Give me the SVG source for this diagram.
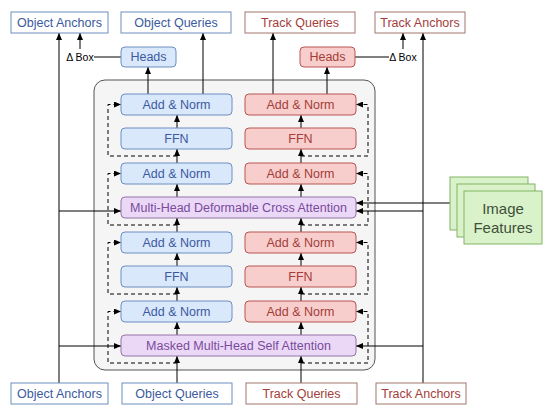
<svg xmlns="http://www.w3.org/2000/svg" width="550" height="414" viewBox="0 0 550 414">
<defs>
<marker id="ah" viewBox="0 0 7 6" refX="7" refY="3" markerWidth="7" markerHeight="6" markerUnits="userSpaceOnUse" orient="auto"><path d="M0,0 L7,3 L0,6 z" fill="#000"/></marker>
<style>
text{font-family:"Liberation Sans",Arial,sans-serif;font-size:12.5px;text-anchor:middle;dominant-baseline:central}
.io-b{fill:#fff;stroke:#6c8ebf;stroke-width:1}
.io-r{fill:#fff;stroke:#a0766f;stroke-width:1}
.b{fill:#dae8fc;stroke:#6c8ebf;stroke-width:1}
.r{fill:#f8cecc;stroke:#b85450;stroke-width:1}
.p{fill:#ead8f6;stroke:#9673a6;stroke-width:1}
.g{fill:#d9f2c9;stroke:#82b366;stroke-width:1}
.tb{fill:#3b5aa0}
.tr{fill:#a33d3a}
.tp{fill:#7a4a9e}
.tg{fill:#3f4f3a;font-size:15px}
.ln{fill:none;stroke:#000;stroke-width:1}
.ar{fill:none;stroke:#000;stroke-width:1;marker-end:url(#ah)}
.ds{fill:none;stroke:#000;stroke-width:1;stroke-dasharray:4 3;marker-end:url(#ah)}
</style>
</defs>
<rect id="container" x="94" y="80" width="281" height="290" rx="11" fill="#f5f5f5" stroke="#555" stroke-width="1"/>
<g id="connectors">
<path class="ar" d="M59,383 V33"/>
<path class="ar" d="M59,211 H121"/>
<path class="ar" d="M59,346 H121"/>
<path class="ar" d="M423,383 V33"/>
<path class="ar" d="M423,211 H356"/>
<path class="ar" d="M423,346 H356"/>
<path class="ar" d="M450,203 H356"/>
<path class="ln" d="M121,57 H94"/>
<path class="ar" d="M80,49 V33"/>
<path class="ln" d="M355,57 H389"/>
<path class="ar" d="M403,49 V33"/>
<path class="ar" d="M148,94 V67"/>
<path class="ar" d="M203,94 V33"/>
<path class="ar" d="M327,94 V67"/>
<path class="ar" d="M273,94 V33"/>
<path class="ar" d="M177,383 V356"/>
<path class="ar" d="M177,335 V322"/>
<path class="ar" d="M177,301 V287"/>
<path class="ar" d="M177,266 V253"/>
<path class="ar" d="M177,232 V218"/>
<path class="ar" d="M177,197 V184"/>
<path class="ar" d="M177,163 V149"/>
<path class="ar" d="M177,128 V115"/>
<path class="ar" d="M301,383 V356"/>
<path class="ar" d="M301,335 V322"/>
<path class="ar" d="M301,301 V287"/>
<path class="ar" d="M301,266 V253"/>
<path class="ar" d="M301,232 V218"/>
<path class="ar" d="M301,197 V184"/>
<path class="ar" d="M301,163 V149"/>
<path class="ar" d="M301,128 V115"/>
<path class="ds" d="M177,363 H108 V311.5 H121"/>
<path class="ds" d="M177,294 H108 V242.5 H121"/>
<path class="ds" d="M177,225 H108 V173.5 H121"/>
<path class="ds" d="M177,156 H108 V104.5 H121"/>
<path class="ds" d="M301,363 H368 V311.5 H356"/>
<path class="ds" d="M301,294 H368 V242.5 H356"/>
<path class="ds" d="M301,225 H368 V173.5 H356"/>
<path class="ds" d="M301,156 H368 V104.5 H356"/>
</g>
<text x="80" y="57" style="font-size:10.5px">Δ Box</text>
<text x="403" y="57" style="font-size:10.5px">Δ Box</text>
<g id="top-object-anchors"><rect class="io-b" x="11" y="12" width="97" height="21"/><text class="tb" x="59.5" y="22.5">Object Anchors</text></g>
<g id="top-object-queries"><rect class="io-b" x="121" y="12" width="110" height="21"/><text class="tb" x="176" y="22.5">Object Queries</text></g>
<g id="top-track-queries"><rect class="io-r" x="245" y="12" width="110" height="21"/><text class="tr" x="300" y="22.5">Track Queries</text></g>
<g id="top-track-anchors"><rect class="io-r" x="375" y="12" width="90" height="21"/><text class="tr" x="420" y="22.5">Track Anchors</text></g>
<g id="heads-obj"><rect class="b" x="121" y="47" width="55" height="20" rx="4"/><text class="tb" x="148.5" y="57">Heads</text></g>
<g id="heads-trk"><rect class="r" x="300" y="47" width="55" height="20" rx="4"/><text class="tr" x="327.5" y="57">Heads</text></g>
<g id="b-addnorm4"><rect class="b" x="121" y="94" width="111" height="21" rx="4"/><text class="tb" x="176.5" y="104.5">Add &amp; Norm</text></g>
<g id="b-ffn2"><rect class="b" x="121" y="128" width="111" height="21" rx="4"/><text class="tb" x="176.5" y="138.5">FFN</text></g>
<g id="b-addnorm3"><rect class="b" x="121" y="163" width="111" height="21" rx="4"/><text class="tb" x="176.5" y="173.5">Add &amp; Norm</text></g>
<g id="b-addnorm2"><rect class="b" x="121" y="232" width="111" height="21" rx="4"/><text class="tb" x="176.5" y="242.5">Add &amp; Norm</text></g>
<g id="b-ffn1"><rect class="b" x="121" y="266" width="111" height="21" rx="4"/><text class="tb" x="176.5" y="276.5">FFN</text></g>
<g id="b-addnorm1"><rect class="b" x="121" y="301" width="111" height="21" rx="4"/><text class="tb" x="176.5" y="311.5">Add &amp; Norm</text></g>
<g id="r-addnorm4"><rect class="r" x="245" y="94" width="111" height="21" rx="4"/><text class="tr" x="300.5" y="104.5">Add &amp; Norm</text></g>
<g id="r-ffn2"><rect class="r" x="245" y="128" width="111" height="21" rx="4"/><text class="tr" x="300.5" y="138.5">FFN</text></g>
<g id="r-addnorm3"><rect class="r" x="245" y="163" width="111" height="21" rx="4"/><text class="tr" x="300.5" y="173.5">Add &amp; Norm</text></g>
<g id="r-addnorm2"><rect class="r" x="245" y="232" width="111" height="21" rx="4"/><text class="tr" x="300.5" y="242.5">Add &amp; Norm</text></g>
<g id="r-ffn1"><rect class="r" x="245" y="266" width="111" height="21" rx="4"/><text class="tr" x="300.5" y="276.5">FFN</text></g>
<g id="r-addnorm1"><rect class="r" x="245" y="301" width="111" height="21" rx="4"/><text class="tr" x="300.5" y="311.5">Add &amp; Norm</text></g>
<g id="cross-attn"><rect class="p" x="121" y="197" width="235" height="21" rx="4"/><text class="tp" x="238.5" y="207.5">Multi-Head Deformable Cross Attention</text></g>
<g id="self-attn"><rect class="p" x="121" y="335" width="235" height="21" rx="4"/><text class="tp" x="238.5" y="345.5">Masked Multi-Head Self Attention</text></g>
<g id="image-features">
<rect class="g" x="450" y="177" width="78" height="53"/>
<rect class="g" x="457" y="184" width="78" height="53"/>
<rect class="g" x="464" y="191" width="78" height="53"/>
<text class="tg" x="503" y="208">Image</text>
<text class="tg" x="503" y="227">Features</text>
</g>
<g id="bot-object-anchors"><rect class="io-b" x="11" y="383" width="97" height="21"/><text class="tb" x="59.5" y="393.5">Object Anchors</text></g>
<g id="bot-object-queries"><rect class="io-b" x="122" y="383" width="110" height="21"/><text class="tb" x="177" y="393.5">Object Queries</text></g>
<g id="bot-track-queries"><rect class="io-r" x="246" y="383" width="111" height="21"/><text class="tr" x="301.5" y="393.5">Track Queries</text></g>
<g id="bot-track-anchors"><rect class="io-r" x="376" y="383" width="90" height="21"/><text class="tr" x="421" y="393.5">Track Anchors</text></g>
</svg>
